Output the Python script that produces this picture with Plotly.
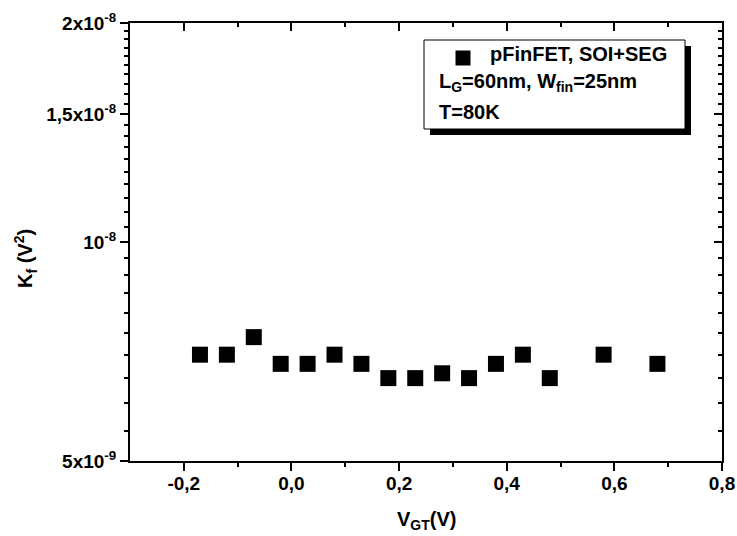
import math
import plotly.graph_objects as go

# ---- data ----
vgt = [-0.17, -0.12, -0.07, -0.02, 0.03, 0.08, 0.13, 0.18, 0.23, 0.28, 0.33, 0.38, 0.43, 0.48, 0.58, 0.68]
kf = [7.0e-9, 7.0e-9, 7.4e-9, 6.8e-9, 6.8e-9, 7.0e-9, 6.8e-9, 6.5e-9, 6.5e-9, 6.6e-9, 6.5e-9, 6.8e-9, 7.0e-9, 6.5e-9, 7.0e-9, 6.8e-9]

x_tickvals = [-0.2, 0.0, 0.2, 0.4, 0.6, 0.8]
x_ticktext = ["-0,2", "0,0", "0,2", "0,4", "0,6", "0,8"]
x_minor = [-0.1, 0.1, 0.3, 0.5, 0.7]

y_tickvals = [5e-9, 1e-8, 1.5e-8, 2e-8]
y_ticktext = ["5x10<sup>-9</sup>", "10<sup>-8</sup>", "1,5x10<sup>-8</sup>", "2x10<sup>-8</sup>"]
y_minor = [k * 0.5e-9 for k in range(11, 40) if k not in (20, 30)]

legend_lines = ["pFinFET, SOI+SEG", "L<sub>G</sub>=60nm, W<sub>fin</sub>=25nm", "T=80K"]

# ---- layout geometry (screen pixels; body margin removed below) ----
W, H = 737, 536
PL, PR, PT, PB = 130, 722, 23, 461          # plot area edges
L, R, T, B = PL, W - PR, PT, H - PB
pw, ph = W - L - R, H - T - B


def px(sx):
    return (sx - L) / pw


def py(sy):
    return (H - B - sy) / ph


FONT = "Arial, Liberation Sans, sans-serif"

fig = go.Figure()
fig.add_trace(go.Scatter(
    x=vgt, y=kf, mode="markers",
    marker=dict(symbol="square", size=16, color="black", line=dict(width=0)),
    showlegend=False, hoverinfo="skip"))
fig.add_trace(go.Scatter(x=[None], y=[None], xaxis="x2", yaxis="y2",
                         showlegend=False, hoverinfo="skip"))

xrange = [-0.3, 0.8]
yrange = [math.log10(5e-9), math.log10(2e-8)]

tickfont = dict(family=FONT, size=19, color="black", weight="bold")

fig.update_layout(
    width=W, height=H,
    margin=dict(l=L, r=R, t=T, b=B, autoexpand=False),
    paper_bgcolor="white", plot_bgcolor="white",
    font=dict(family=FONT, color="black"),
    xaxis=dict(range=xrange, showline=True, linecolor="black", linewidth=2,
               ticks="outside", ticklen=8, tickwidth=2, tickcolor="black",
               tickmode="array", tickvals=x_tickvals, ticktext=x_ticktext,
               tickfont=tickfont, showgrid=False, zeroline=False, mirror=False,
               ticklabeloverflow="allow", automargin=False, ticklabelstandoff=-4,
               minor=dict(tickmode="array", tickvals=x_minor, ticks="outside",
                          ticklen=4, tickwidth=2, tickcolor="black", showgrid=False)),
    yaxis=dict(type="log", range=yrange, showline=True, linecolor="black", linewidth=2,
               ticks="outside", ticklen=8, tickwidth=2, tickcolor="black",
               tickmode="array", tickvals=y_tickvals, ticktext=y_ticktext,
               tickfont=tickfont, showgrid=False, zeroline=False, mirror=False,
               ticklabeloverflow="allow", automargin=False,
               minor=dict(tickmode="array", tickvals=y_minor, ticks="outside",
                          ticklen=4, tickwidth=1.5, tickcolor="black", showgrid=False)),
    xaxis2=dict(range=xrange, overlaying="x", side="top", anchor="y",
                showline=True, linecolor="black", linewidth=2, automargin=False,
                ticks="inside", ticklen=8, tickwidth=2, tickcolor="black",
                tickmode="array", tickvals=x_tickvals, showticklabels=False,
                showgrid=False, zeroline=False,
                minor=dict(tickmode="array", tickvals=x_minor, ticks="inside",
                           ticklen=4, tickwidth=2, tickcolor="black", showgrid=False)),
    yaxis2=dict(type="log", range=yrange, overlaying="y", side="right", anchor="x",
                showline=True, linecolor="black", linewidth=2, automargin=False,
                ticks="inside", ticklen=8, tickwidth=2, tickcolor="black",
                tickmode="array", tickvals=y_tickvals, showticklabels=False,
                showgrid=False, zeroline=False,
                minor=dict(tickmode="array", tickvals=y_minor, ticks="inside",
                           ticklen=4, tickwidth=1.5, tickcolor="black", showgrid=False)),
)

titlefont = dict(family=FONT, size=20, color="black", weight="bold")
# axis titles
fig.add_annotation(x=px(426), y=py(520), xref="paper", yref="paper",
                   text="V<sub>GT</sub>(V)", showarrow=False,
                   xanchor="center", yanchor="middle", font=titlefont)
fig.add_annotation(x=px(25), y=py(259), xref="paper", yref="paper",
                   text="K<sub>f</sub> (V<sup>2</sup>)", showarrow=False, textangle=-90,
                   xanchor="center", yanchor="middle", font=titlefont)

# legend box with shadow
fig.add_shape(type="rect", xref="paper", yref="paper",
              x0=px(430), x1=px(691), y0=py(135), y1=py(46),
              fillcolor="black", line=dict(width=0), layer="above")
fig.add_shape(type="rect", xref="paper", yref="paper",
              x0=px(424), x1=px(685), y0=py(129), y1=py(40),
              fillcolor="white", line=dict(color="black", width=1), layer="above")
fig.add_shape(type="rect", xref="paper", yref="paper",
              x0=px(455.5), x1=px(470.5), y0=py(65.5), y1=py(50.5),
              fillcolor="black", line=dict(width=0), layer="above")

legfont = dict(family=FONT, size=20, color="black", weight="bold")
fig.add_annotation(x=px(488), y=py(54), xref="paper", yref="paper", text=legend_lines[0],
                   showarrow=False, xanchor="left", yanchor="middle", font=legfont)
fig.add_annotation(x=px(437), y=py(82), xref="paper", yref="paper", text=legend_lines[1],
                   showarrow=False, xanchor="left", yanchor="middle", font=legfont)
fig.add_annotation(x=px(437), y=py(112), xref="paper", yref="paper", text=legend_lines[2],
                   showarrow=False, xanchor="left", yanchor="middle", font=legfont)

fig.write_html("out.html", config={"displayModeBar": False},
               post_script="document.body.style.margin='0';document.body.style.overflow='hidden';")
